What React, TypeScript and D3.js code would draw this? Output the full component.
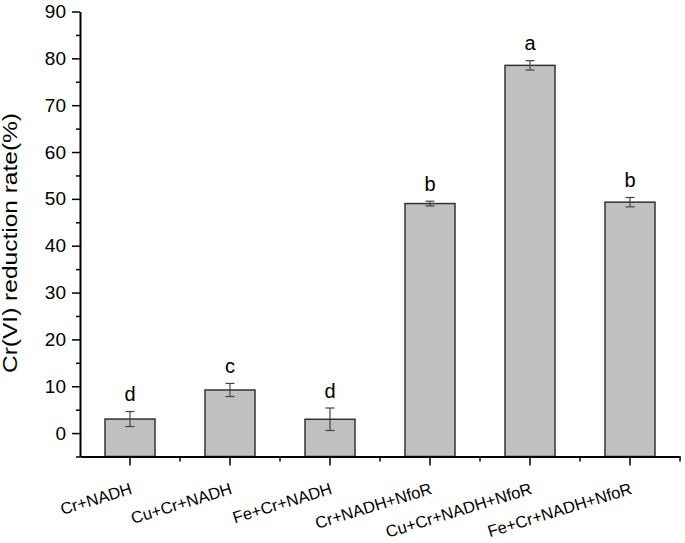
import * as d3 from 'd3';
import React, {useRef, useEffect} from 'react';

const groups = ['Cr+NADH', 'Cu+Cr+NADH', 'Fe+Cr+NADH', 'Cr+NADH+NfoR', 'Cu+Cr+NADH+NfoR', 'Fe+Cr+NADH+NfoR'];
const rates = [3.0, 9.2, 2.95, 49.0, 78.5, 49.3];
const errs = [1.6, 1.4, 2.4, 0.5, 1.0, 1.0];
const letters = ['d', 'c', 'd', 'b', 'a', 'b'];
const yTicks = [0, 10, 20, 30, 40, 50, 60, 70, 80, 90];

function App(){
    const ref = useRef<SVGSVGElement>(null);

    useEffect(() => {
        const width = 685, height = 543;
        const svg = d3.select(ref.current)
            .attr("width", width)
            .attr("height", height);
        svg.selectAll("*").remove();

        const x = d3.scaleBand()
            .domain(groups)
            .range([80, 680])
            .padding(0);
        const y = d3.scaleLinear()
            .domain([-5, 90])
            .range([456.5, 11.5]);
        const barW = 50;
        const font = "Arial, 'Liberation Sans', sans-serif";

        // bars
        svg.selectAll("rect.bar")
            .data(rates)
            .enter()
            .append("rect")
            .attr("class", "bar")
            .attr("x", (d, i) => x(groups[i])! + x.bandwidth() / 2 - barW / 2)
            .attr("y", d => y(d))
            .attr("width", barW)
            .attr("height", d => y(-5) - y(d))
            .attr("fill", "#c0c0c0")
            .attr("stroke", "#333")
            .attr("stroke-width", 1.5);

        // error bars
        const eb = svg.append("g").attr("stroke", "#444").attr("stroke-width", 1.2);
        rates.forEach((v, i) => {
            const cx = x(groups[i])! + x.bandwidth() / 2;
            const hi = y(v + errs[i]), lo = y(v - errs[i]);
            eb.append("line").attr("x1", cx).attr("x2", cx).attr("y1", hi).attr("y2", lo);
            eb.append("line").attr("x1", cx - 4.5).attr("x2", cx + 4.5).attr("y1", hi).attr("y2", hi);
            eb.append("line").attr("x1", cx - 4.5).attr("x2", cx + 4.5).attr("y1", lo).attr("y2", lo);
        });

        // letters
        svg.selectAll("text.sig")
            .data(letters)
            .enter()
            .append("text")
            .attr("class", "sig")
            .attr("x", (d, i) => x(groups[i])! + x.bandwidth() / 2)
            .attr("y", (d, i) => y(rates[i] + errs[i]) - 10.5)
            .attr("text-anchor", "middle")
            .attr("font-family", font)
            .attr("font-size", 20)
            .text(d => d);

        // y axis
        const yAxis = svg.append("g")
            .attr("transform", "translate(80,0)")
            .call(d3.axisLeft(y).tickValues(yTicks).tickSize(8).tickSizeOuter(0).tickPadding(6));
        yAxis.select(".domain").attr("stroke", "#000").attr("stroke-width", 2);
        yAxis.selectAll(".tick line").attr("stroke-width", 1.5);
        yAxis.selectAll("text").attr("font-family", font).attr("font-size", 19).attr("fill", "#000");
        svg.append("g")
            .attr("transform", "translate(80,0)")
            .call(d3.axisLeft(y).tickValues([-5, 5, 15, 25, 35, 45, 55, 65, 75, 85]).tickSize(4).tickFormat(() => ""))
            .call(g => g.select(".domain").remove())
            .selectAll(".tick line").attr("stroke-width", 1.5);

        // x axis
        const xAxis = svg.append("g")
            .attr("transform", `translate(0,${y(-5)})`)
            .call(d3.axisBottom(x).tickSize(9).tickSizeOuter(0));
        xAxis.select(".domain").attr("stroke", "#000").attr("stroke-width", 2);
        xAxis.selectAll(".tick line").attr("stroke-width", 1.5);
        xAxis.selectAll("text")
            .attr("font-family", font)
            .attr("font-size", 16.5)
            .attr("fill", "#000")
            .attr("text-anchor", "end")
            .attr("y", 0)
            .attr("dy", 0)
            .attr("transform", "translate(3,37) rotate(-17)");
        const minorX = [180, 280, 380, 480, 580, 680];
        svg.append("g")
            .selectAll("line")
            .data(minorX)
            .enter()
            .append("line")
            .attr("x1", d => d).attr("x2", d => d)
            .attr("y1", y(-5)).attr("y2", y(-5) + 5)
            .attr("stroke", "#000")
            .attr("stroke-width", 1.5);

        // y title
        svg.append("text")
            .attr("transform", `translate(17,243) rotate(-90)`)
            .attr("text-anchor", "middle")
            .attr("font-family", font)
            .attr("font-size", 20)
            .attr("textLength", 260)
            .attr("lengthAdjust", "spacingAndGlyphs")
            .text("Cr(VI) reduction rate(%)");
    }, []);

    return (
        <svg ref={ref} style={{position: "absolute", left: 0, top: 0, background: "#fff"}}>
        </svg>
    )
}

export default App;
